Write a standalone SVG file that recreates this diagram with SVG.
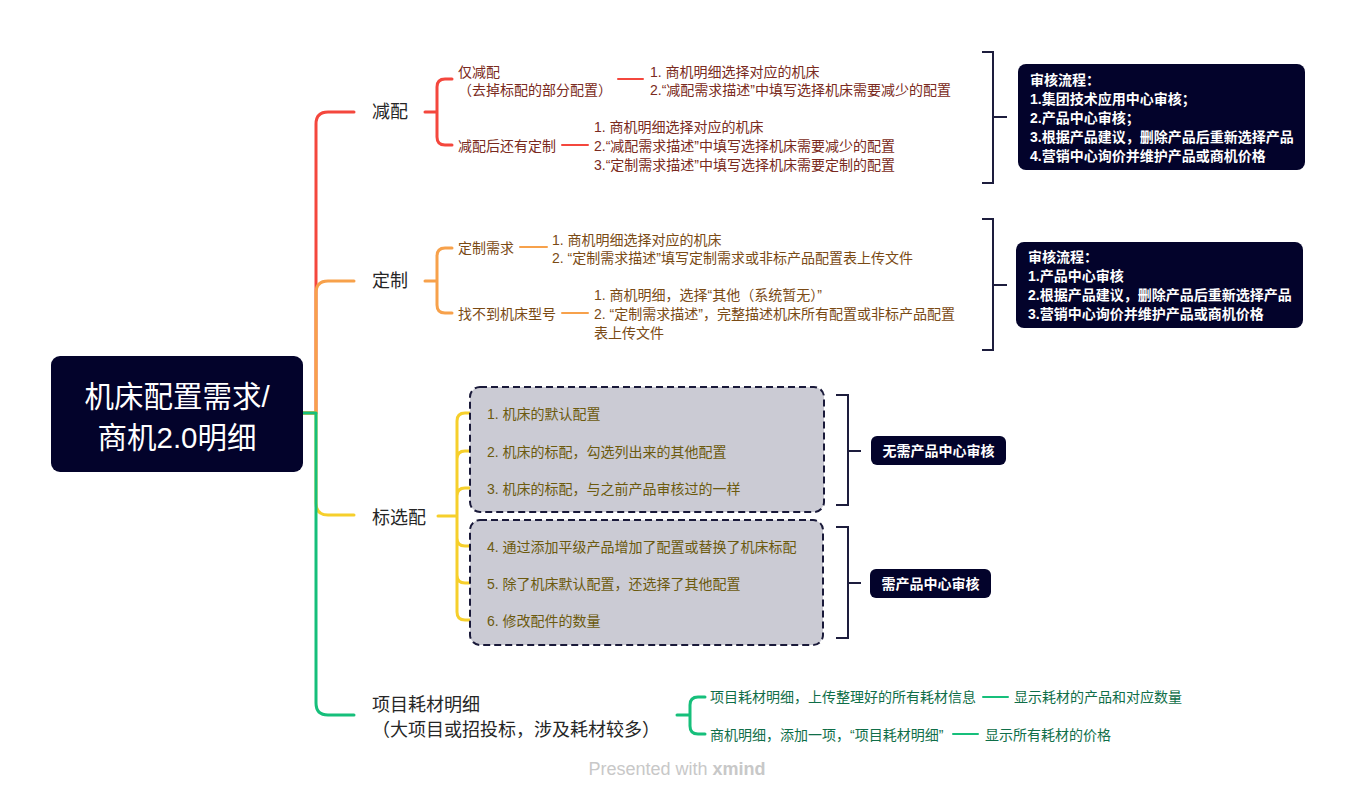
<svg xmlns="http://www.w3.org/2000/svg" width="1356" height="800" viewBox="0 0 1356 800">
<style>
text{font-family:"Liberation Sans","Noto Sans CJK SC",sans-serif;dominant-baseline:central}
.c{fill:none;stroke-linecap:round;stroke-linejoin:round}
.r{stroke:#f4473d}.o{stroke:#f7a14b}.y{stroke:#f6cf2b}.g{stroke:#16bf7b}
.w3{stroke-width:3}.w2{stroke-width:2}
.br{fill:none;stroke:#1d1d3d;stroke-width:2}
.main{font-size:18px;fill:#262626}
.s{font-size:14px}
.tr{fill:#7a2a20}.to{fill:#7a4a14}.ty{fill:#6c5a0e}.tg{fill:#0f6e48}
.dark{fill:#03032b}
.wt{fill:#fff;font-size:14px;font-weight:bold}
.dash{fill:#cbcbd4;stroke:#1a1a3a;stroke-width:2;stroke-dasharray:7 4}
</style>
<rect width="1356" height="800" fill="#fff"/>
<g id="connectors">
<path class="c r w3" d="M303,413 H316 V124 Q316,112 328,112 H354"/>
<path class="c o w3" d="M303,413 H316 V293 Q316,281 328,281 H354"/>
<path class="c y w3" d="M303,413 H316 V503 Q316,515 328,515 H354"/>
<path class="c g w3" d="M303,413 H316 V703 Q316,715 328,715 H354"/>
<path class="c r w3" d="M425,112 H437 M437,112 V87 Q437,79 445,79 H452 M437,112 V137 Q437,145 445,145 H452"/>
<path class="c r w2" d="M618,79 H643 M562,145 H588"/>
<path class="c o w3" d="M425,281 H437 M437,281 V256 Q437,248 445,248 H452 M437,281 V305 Q437,313 445,313 H452"/>
<path class="c o w2" d="M520,247 H547 M562,313 H588"/>
<path class="c y w3" d="M438,516 H457 M457,516 V421 Q457,413 465,413 H483 M457,516 V459 Q457,451 465,451 H483 M457,516 V496 Q457,488 465,488 H483 M457,516 V538 Q457,546 465,546 H483 M457,516 V575 Q457,583 465,583 H483 M457,516 V612 Q457,620 465,620 H483"/>
<path class="c g w3" d="M677,715 H690 M690,715 V705 Q690,697 698,697 H705 M690,715 V726 Q690,734 698,734 H705"/>
<path class="c g w2" d="M983,697 H1008 M953,734 H978"/>
<path class="br" d="M982,52 H993 V183 H982 M993,117 H1007"/>
<path class="br" d="M982,219 H993 V350 H982 M993,285 H1007"/>
<path class="br" d="M836,395 H848 V505 H836 M848,451 H861"/>
<path class="br" d="M836,527 H848 V638 H836 M848,583 H861"/>
</g>
<g id="root">
<rect x="51" y="356" width="252" height="116" rx="9" class="dark"/>
<text x="177" y="396" text-anchor="middle" font-size="29.5" fill="#fff">机床配置需求/</text>
<text x="177" y="437" text-anchor="middle" font-size="29.5" fill="#fff">商机2.0明细</text>
</g>
<g id="jianpei"><text x="372" y="112" class="main">减配</text></g>
<g id="jianpei-only"><text x="458" y="72" class="s tr">仅减配</text><text x="458" y="90" class="s tr">（去掉标配的部分配置）</text></g>
<g id="jianpei-only-desc"><text x="650" y="72" class="s tr">1. 商机明细选择对应的机床</text><text x="650" y="90" class="s tr">2.“减配需求描述”中填写选择机床需要减少的配置</text></g>
<g id="jianpei-custom"><text x="458" y="146" class="s tr">减配后还有定制</text></g>
<g id="jianpei-custom-desc"><text x="594" y="127" class="s tr">1. 商机明细选择对应的机床</text><text x="594" y="146" class="s tr">2.“减配需求描述”中填写选择机床需要减少的配置</text><text x="594" y="165" class="s tr">3.“定制需求描述”中填写选择机床需要定制的配置</text></g>
<g id="review1"><rect x="1018" y="64" width="287" height="106" rx="8" class="dark"/>
<text x="1030" y="80" class="wt">审核流程：</text><text x="1030" y="99" class="wt">1.集团技术应用中心审核；</text><text x="1030" y="118" class="wt">2.产品中心审核；</text><text x="1030" y="137" class="wt">3.根据产品建议，删除产品后重新选择产品</text><text x="1030" y="156" class="wt">4.营销中心询价并维护产品或商机价格</text></g>
<g id="dingzhi"><text x="372" y="281" class="main">定制</text></g>
<g id="dingzhi-req"><text x="458" y="248" class="s to">定制需求</text></g>
<g id="dingzhi-req-desc"><text x="552" y="240" class="s to">1. 商机明细选择对应的机床</text><text x="552" y="258" class="s to">2. “定制需求描述”填写定制需求或非标产品配置表上传文件</text></g>
<g id="dingzhi-none"><text x="458" y="314" class="s to">找不到机床型号</text></g>
<g id="dingzhi-none-desc"><text x="594" y="295" class="s to">1. 商机明细，选择“其他（系统暂无）”</text><text x="594" y="314" class="s to">2. “定制需求描述”，完整描述机床所有配置或非标产品配置</text><text x="594" y="333" class="s to">表上传文件</text></g>
<g id="review2"><rect x="1016" y="242" width="287" height="86" rx="8" class="dark"/>
<text x="1028" y="257" class="wt">审核流程：</text><text x="1028" y="276" class="wt">1.产品中心审核</text><text x="1028" y="295" class="wt">2.根据产品建议，删除产品后重新选择产品</text><text x="1028" y="314" class="wt">3.营销中心询价并维护产品或商机价格</text></g>
<g id="biaoxuanpei"><text x="372" y="518" class="main">标选配</text></g>
<g id="group1"><rect x="470" y="387" width="354" height="125" rx="10" class="dash"/></g>
<g id="group2"><rect x="470" y="520" width="353" height="125" rx="10" class="dash"/></g>
<g id="item1"><text x="487" y="414" class="s ty">1. 机床的默认配置</text></g>
<g id="item2"><text x="487" y="452" class="s ty">2. 机床的标配，勾选列出来的其他配置</text></g>
<g id="item3"><text x="487" y="489" class="s ty">3. 机床的标配，与之前产品审核过的一样</text></g>
<g id="item4"><text x="487" y="547" class="s ty">4. 通过添加平级产品增加了配置或替换了机床标配</text></g>
<g id="item5"><text x="487" y="584" class="s ty">5. 除了机床默认配置，还选择了其他配置</text></g>
<g id="item6"><text x="487" y="621" class="s ty">6. 修改配件的数量</text></g>
<g id="noreview"><rect x="871" y="436" width="135" height="29" rx="6" class="dark"/><text x="938.5" y="451" text-anchor="middle" class="wt">无需产品中心审核</text></g>
<g id="needreview"><rect x="870" y="569" width="121" height="29" rx="6" class="dark"/><text x="930.5" y="584" text-anchor="middle" class="wt">需产品中心审核</text></g>
<g id="haocai"><text x="372" y="705" class="main">项目耗材明细</text><text x="372" y="730" class="main">（大项目或招投标，涉及耗材较多）</text></g>
<g id="haocai1"><text x="710" y="697" class="s tg">项目耗材明细，上传整理好的所有耗材信息</text></g>
<g id="haocai1-desc"><text x="1014" y="697" class="s tg">显示耗材的产品和对应数量</text></g>
<g id="haocai2"><text x="710" y="735" class="s tg">商机明细，添加一项，“项目耗材明细”</text></g>
<g id="haocai2-desc"><text x="985" y="735" class="s tg">显示所有耗材的价格</text></g>
<g id="watermark"><text x="677" y="769" text-anchor="middle" font-size="18" fill="#c8c8c8">Presented with <tspan font-weight="bold">xmind</tspan></text></g>
</svg>
